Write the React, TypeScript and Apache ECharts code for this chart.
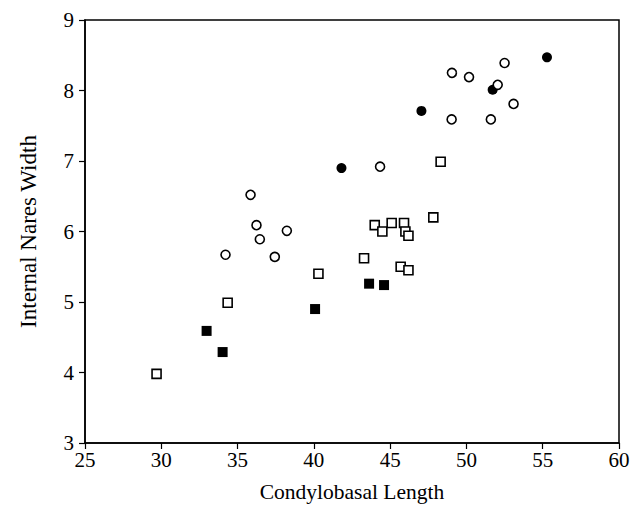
import React, { useEffect, useRef } from "react";
import * as echarts from "echarts";

const openCircles: [number, number][] = [
  [49.05, 8.25], [50.17, 8.19], [52.5, 8.39], [52.05, 8.08], [53.09, 7.81],
  [49.03, 7.59], [51.6, 7.59], [44.34, 6.92], [35.85, 6.52], [36.24, 6.09],
  [36.46, 5.89], [38.23, 6.01], [34.21, 5.67], [37.44, 5.64],
];
const filledCircles: [number, number][] = [
  [55.28, 8.47], [51.72, 8.01], [47.05, 7.71], [41.81, 6.9],
];
const openSquares: [number, number][] = [
  [48.31, 6.99], [47.83, 6.2], [43.99, 6.09], [44.49, 6.0], [45.1, 6.12],
  [45.91, 6.12], [46.0, 6.0], [46.2, 5.94], [43.29, 5.62], [45.69, 5.5],
  [46.2, 5.45], [40.3, 5.4], [34.35, 4.99], [29.69, 3.98],
];
const filledSquares: [number, number][] = [
  [43.62, 5.26], [44.6, 5.24], [32.97, 4.59], [34.02, 4.29], [40.08, 4.9],
];

const xName = "Condylobasal Length";
const yName = "Internal Nares Width";

const FONT = "Liberation Serif";

export default function App() {
  const ref = useRef<HTMLDivElement>(null);
  useEffect(() => {
    if (!ref.current) return;
    const chart = echarts.init(ref.current, null, { renderer: "svg" });
    const axisCommon = {
      axisLine: { show: true, lineStyle: { color: "#000", width: 1.5 } },
      axisTick: { show: true, inside: false, length: 6, lineStyle: { color: "#000", width: 1.2 } },
      splitLine: { show: false },
      axisLabel: { color: "#000", fontFamily: FONT, fontSize: 21 },
    };
    chart.setOption({
      animation: false,
      backgroundColor: "#fff",
      grid: {
        left: 85, right: 19, top: 20, bottom: 75,
        show: true, borderColor: "#000", borderWidth: 1.5, backgroundColor: "transparent",
      },
      xAxis: {
        type: "value", min: 25, max: 60, interval: 5,
        name: xName, nameLocation: "middle", nameGap: 38,
        nameTextStyle: { color: "#000", fontFamily: FONT, fontSize: 21.5 },
        ...axisCommon,
        axisLabel: { ...axisCommon.axisLabel, margin: 6 },
      },
      yAxis: {
        type: "value", min: 3, max: 9, interval: 1,
        name: yName, nameLocation: "middle", nameGap: 45, nameRotate: 90,
        nameTextStyle: { color: "#000", fontFamily: FONT, fontSize: 23 },
        ...axisCommon,
        axisLabel: { ...axisCommon.axisLabel, margin: 11 },
      },
      series: [
        {
          type: "scatter", data: filledCircles, symbol: "circle", symbolSize: 10,
          itemStyle: { color: "#000", opacity: 1 },
        },
        {
          type: "scatter", data: openCircles, symbol: "circle", symbolSize: 9,
          itemStyle: { color: "#fff", borderColor: "#000", borderWidth: 1.6, opacity: 1 },
        },
        {
          type: "scatter", data: openSquares, symbol: "rect", symbolSize: 9,
          itemStyle: { color: "#fff", borderColor: "#000", borderWidth: 1.6, opacity: 1 },
        },
        {
          type: "scatter", data: filledSquares, symbol: "rect", symbolSize: 10,
          itemStyle: { color: "#000", opacity: 1 },
        },
      ],
    });
    return () => chart.dispose();
  }, []);
  return <div ref={ref} style={{ width: 638, height: 518, position: "absolute", left: 0, top: 0 }} />;
}
